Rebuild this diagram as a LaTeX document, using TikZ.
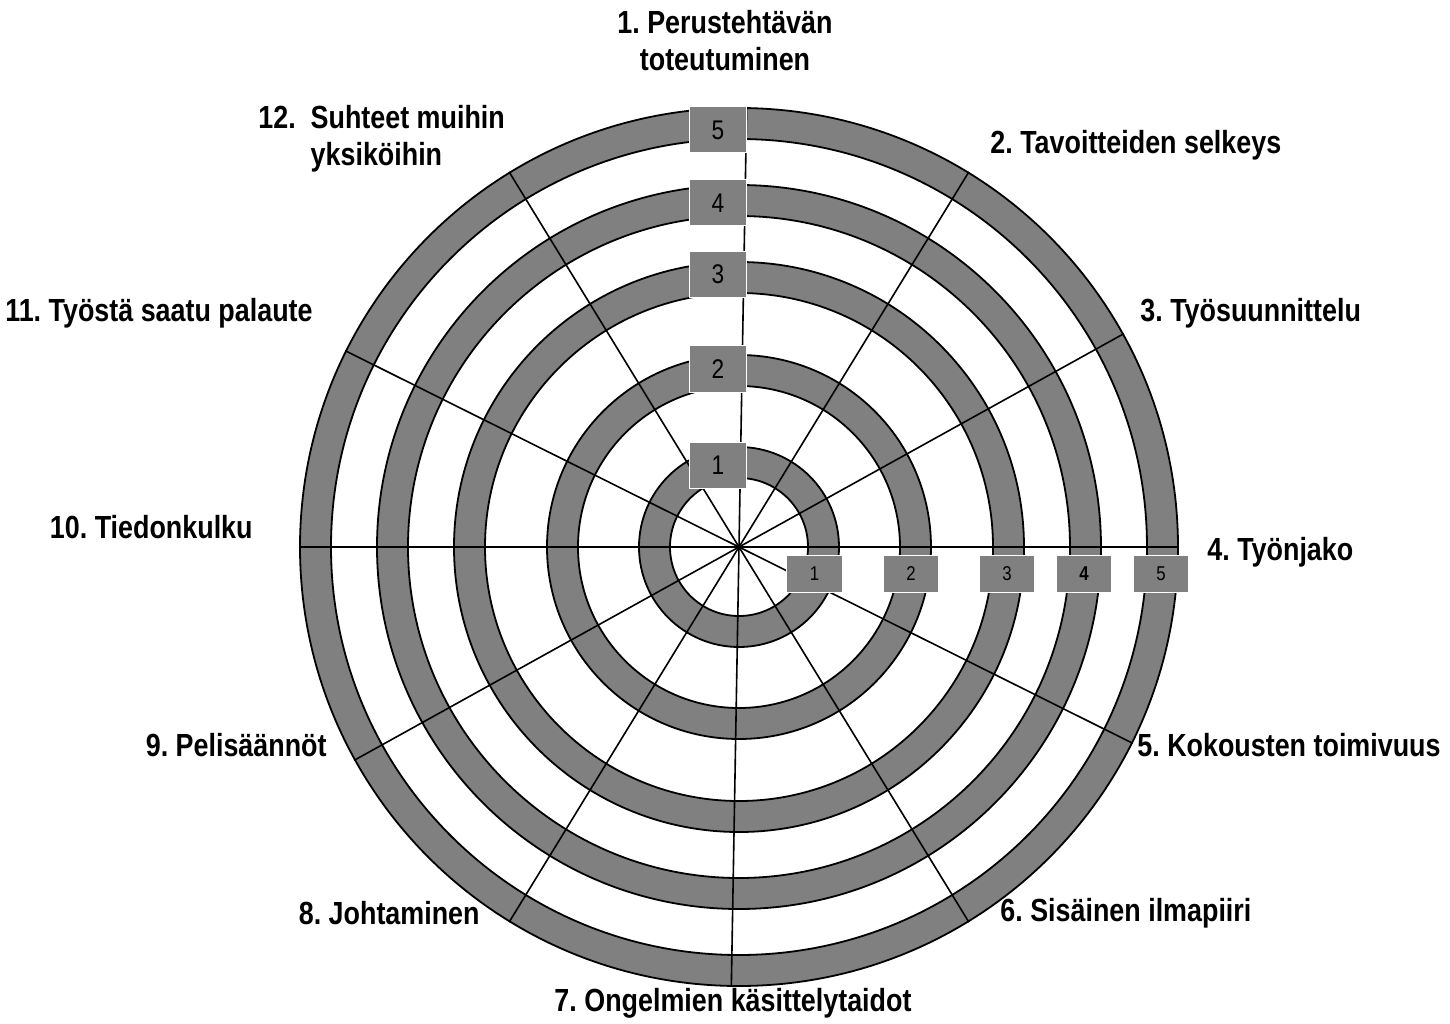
\documentclass[tikz,border=0pt]{standalone}
\usepackage{fontspec}
\setmainfont[FakeStretch=0.84]{Liberation Sans}
\definecolor{ringgray}{RGB}{128,128,128}
\frenchspacing
\begin{document}
\begin{tikzpicture}[x=0.5pt,y=0.5pt,
    band/.style={fill=ringgray,even odd rule},
    rim/.style={line width=0.9pt},
    spoke/.style={line width=0.8pt},
    val/.style={fill=ringgray,draw=white,line width=0.5pt,inner sep=0pt,
      minimum width=28.5pt,minimum height=23pt,font=\fontsize{13.5}{15}\selectfont},
    rval/.style={val,minimum width=27.8pt,minimum height=18.3pt,
      font=\fontsize{10}{12}\selectfont},
    lab/.style={inner sep=0pt,font=\fontsize{16}{18.5}\selectfont\bfseries}]
  \useasboundingbox (-739,-476) rectangle (711,547);
  % rings 1..5
  \foreach \ri/\ro in {69/100,161/192,254/285,331/362,408/439}{
    \fill[band] (0,0) circle (\ro) circle (\ri);
    \draw[rim] (0,0) circle (\ro) (0,0) circle (\ri);
  }
  % spokes
  \coordinate (c) at (0,0);
  \foreach \n/\a in {1/89,2/58.5,3/29,4/0,5/-26.5,6/-58.5,
                     7/-91,8/-121.5,9/-151,10/180,11/153.5,12/121.5}
    \coordinate (e\n) at (\a:440);
  \begin{scope}[spoke]
    \foreach \n in {1,...,12}
      \draw (c) -- (e\n);
  \end{scope}
  % scale boxes
  \node[val] (t1) at (-21,81.5) {1};
  \node[val] (t2) at (-21,178) {2};
  \node[val] (t3) at (-21,272.5) {3};
  \node[val] (t4) at (-21,344) {4};
  \node[val] (t5) at (-21,417) {5};
  \node[rval] (r1) at (75.5,-27) {\raisebox{-2pt}{1}};
  \node[rval] (r2) at (172,-27) {\raisebox{-2pt}{2}};
  \node[rval] (r3) at (268,-27) {\raisebox{-2pt}{3}};
  \node[rval] (r4) at (345,-27) {\raisebox{-2pt}{\bfseries 4}};
  \node[rval] (r5) at (422,-27) {\raisebox{-2pt}{5}};
  % labels
  \node[lab,align=center] (l1) at (-14,506) {1. Perustehtävän\\toteutuminen};
  \node[lab,anchor=west] (l2) at (251,402) {2. Tavoitteiden selkeys};
  \node[lab,anchor=west] (l3) at (401,234) {3. Työsuunnittelu};
  \node[lab,anchor=west] (l4) at (468,-5) {4. Työnjako};
  \node[lab,anchor=west] (l5) at (398,-198) {5. Kokousten toimivuus};
  \node[lab,anchor=west] (l6) at (261,-366) {6. Sisäinen ilmapiiri};
  \node[lab] (l7) at (-6,-456) {7. Ongelmien käsittelytaidot};
  \node[lab,anchor=east] (l8) at (-259,-366) {8. Johtaminen};
  \node[lab,anchor=east] (l9) at (-412,-198) {9. Pelisäännöt};
  \node[lab,anchor=east] (l10) at (-486,20) {10. Tiedonkulku};
  \node[lab,anchor=east] (l11) at (-426,234) {11. Työstä saatu palaute};
  \node[lab,anchor=west,align=left] (l12) at (-481,408)
    {12.\ \ Suhteet muihin\\\phantom{12.\ \ }yksiköihin};
\end{tikzpicture}
\end{document}
